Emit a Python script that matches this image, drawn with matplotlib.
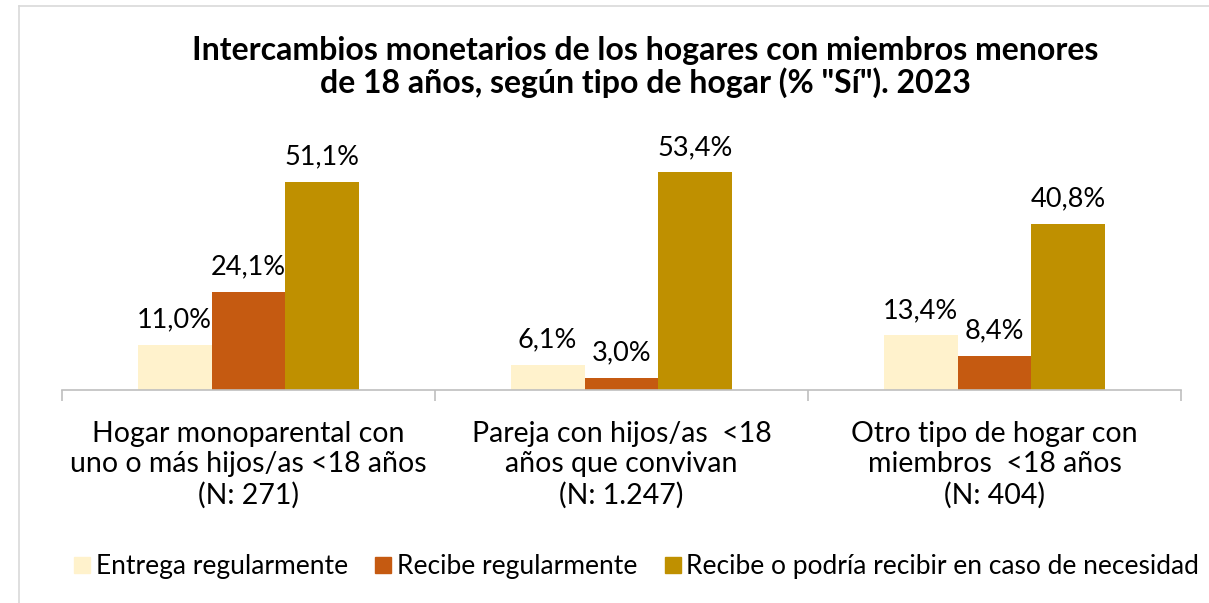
import matplotlib
matplotlib.use("Agg")
import matplotlib.pyplot as plt
import numpy as np
from matplotlib.lines import Line2D

plt.rcParams['font.family'] = ['Lato', 'DejaVu Sans']

categories = [
    "Hogar monoparental con\nuno o más hijos/as <18 años\n(N: 271)",
    "Pareja con hijos/as  <18\naños que convivan\n(N: 1.247)",
    "Otro tipo de hogar con\nmiembros  <18 años\n(N: 404)",
]
series_names = [
    "Entrega regularmente",
    "Recibe regularmente",
    "Recibe o podría recibir en caso de necesidad",
]
entrega = [11.0, 6.1, 13.4]
recibe = [24.1, 3.0, 8.4]
podria = [51.1, 53.4, 40.8]
colors = ["#FFF2CC", "#C55A11", "#BF9000"]

fig = plt.figure(figsize=(12.09, 6.03), dpi=100)
ax = fig.add_axes([0.0513, 0.3532, 0.9255, 0.448])

x = np.arange(len(categories))
w = 0.198
for i, (vals, col) in enumerate(zip([entrega, recibe, podria], colors)):
    pos = x + (i - 1) * w
    ax.bar(pos, vals, width=w, color=col, label=series_names[i])
    for p, v in zip(pos, vals):
        ax.annotate(f"{v:.1f}%".replace(".", ","), (p, v), xytext=(0, 9),
                    textcoords="offset points", ha="center", va="bottom",
                    fontsize=19.5, color="#000000")

ax.set_xlim(-0.5, 2.5)
ax.set_ylim(0, 66.3)
for s in ["top", "right", "left"]:
    ax.spines[s].set_visible(False)
ax.spines["bottom"].set_color("#BFBFBF")
ax.spines["bottom"].set_linewidth(1.2)
ax.set_yticks([])
ax.set_xticks(x)
ax.set_xticklabels(categories, fontsize=20.5, linespacing=1.22)
ax.tick_params(axis="x", which="major", length=0, pad=22)
ax.set_xticks([-0.5, 0.5, 1.5, 2.5], minor=True)
ax.tick_params(axis="x", which="minor", length=8, color="#BFBFBF", width=1.2)

fig.text(0.534, 0.889, 'Intercambios monetarios de los hogares con miembros menores\nde 18 años, según tipo de hogar (% "Sí"). 2023',
         ha="center", va="center", fontsize=23, fontweight="bold", linespacing=1.12)

handles = [Line2D([0], [0], marker="s", linestyle="none", markersize=12,
                  markerfacecolor=c, markeredgecolor=c) for c in colors]
fig.legend(handles, series_names, loc="center", bbox_to_anchor=(0.526, 0.06),
           ncol=3, frameon=False, fontsize=19, handletextpad=0.15,
           columnspacing=1.0, handlelength=0.7)

# frame lines of the original chart area
fig.add_artist(Line2D([19 / 1209, 1], [1 - 6 / 603, 1 - 6 / 603],
                      transform=fig.transFigure, color="#D9D9D9", lw=1.2))
fig.add_artist(Line2D([19 / 1209, 19 / 1209], [0, 1 - 6 / 603],
                      transform=fig.transFigure, color="#D9D9D9", lw=1.2))

fig.savefig("out.png", dpi=100)
